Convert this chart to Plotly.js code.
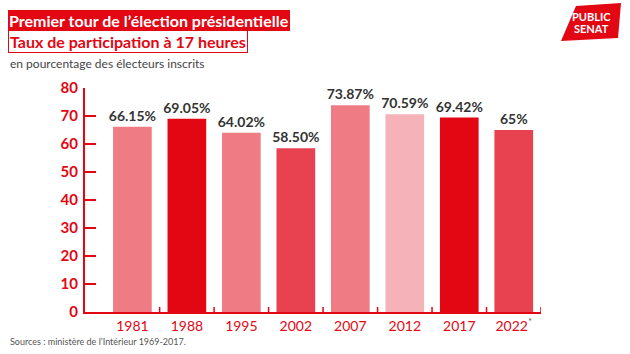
<!DOCTYPE html>
<html><head><meta charset="utf-8">
<script src="https://cdn.plot.ly/plotly-3.0.1.min.js"></script>
<style>html,body{margin:0;padding:0;background:#fff}</style>
</head><body>
<div id="chart" style="width:630px;height:354px"></div>
<script>
const years = ["1981","1988","1995","2002","2007","2012","2017","2022"];
const tickLabels = ["1981","1988","1995","2002","2007","2012","2017","2022<sup style='color:#666'>*</sup>"];
const participation = [66.15, 69.05, 64.02, 58.50, 73.87, 70.59, 69.42, 65];
const valueLabels = ["66.15%","69.05%","64.02%","58.50%","73.87%","70.59%","69.42%","65%"];
const barColors = ["#ef7b84","#e30613","#ef7b84","#e8414f","#ef7b84","#f5b3b9","#e30613","#e8414f"];
const yTicks = [0,10,20,30,40,50,60,70,80];

const RED = "#e30613";
const W = 630, H = 354, L = 85, R = 89, T = 88, B = 42;
const pw = W - L - R, ph = H - T - B;
const px = x => (x - L) / pw;
const py = y => (H - B - y) / ph;

const idx = years.map((_, i) => i);

const trace = {
  type: "bar",
  x: idx,
  y: participation,
  marker: { color: barColors, line: { width: 0 } },
  text: valueLabels,
  textposition: "outside",
  constraintext: "none",
  cliponaxis: false,
  textfont: { family: "Lato, sans-serif", size: 14, color: "#333", weight: 700 },
  hoverinfo: "skip"
};

const shapes = [];
for (let i = 0; i < years.length; i++) {
  shapes.push({ type: "line", xref: "x", yref: "paper", x0: i + 0.5, x1: i + 0.5, y0: 0, y1: 5 / ph,
    line: { color: RED, width: 1.5 } });
}
shapes.push({ type: "path", xref: "paper", yref: "paper",
  path: `M ${px(576)} ${py(6)} L ${px(621)} ${py(3)} L ${px(618)} ${py(38)} L ${px(561)} ${py(41)} Z`,
  fillcolor: RED, line: { width: 0 } });

const annotations = [
  { xref: "paper", yref: "paper", x: px(8), y: py(10), xanchor: "left", yanchor: "top",
    text: "Premier tour de l’élection présidentielle", showarrow: false,
    font: { family: "Lato, sans-serif", size: 16, color: "#fff", weight: 700 },
    bgcolor: RED, borderpad: 1, borderwidth: 0 },
  { xref: "paper", yref: "paper", x: px(8), y: py(30), xanchor: "left", yanchor: "top",
    text: "Taux de participation à 17 heures", showarrow: false,
    font: { family: "Lato, sans-serif", size: 16, color: RED, weight: 700 },
    bgcolor: "#fff", bordercolor: RED, borderwidth: 1, borderpad: 1 },
  { xref: "paper", yref: "paper", x: px(8), y: py(64), xanchor: "left", yanchor: "middle",
    text: "en pourcentage des électeurs inscrits", showarrow: false,
    font: { family: "Lato, sans-serif", size: 12, color: "#444" } },
  { xref: "paper", yref: "paper", x: px(8), y: py(341), xanchor: "left", yanchor: "middle",
    text: "Sources : ministère de l’Intérieur 1969-2017.", showarrow: false,
    font: { family: "Lato, sans-serif", size: 9, color: "#555" } },
  { xref: "paper", yref: "paper", x: px(591), y: py(16), xanchor: "center", yanchor: "middle",
    text: "PUBLIC", showarrow: false,
    font: { family: "Lato, sans-serif", size: 11, color: "#fff", weight: 700 } },
  { xref: "paper", yref: "paper", x: px(591), y: py(29), xanchor: "center", yanchor: "middle",
    text: "SENAT", showarrow: false,
    font: { family: "Lato, sans-serif", size: 11, color: "#fff", weight: 700 } }
];

const layout = {
  width: W, height: H,
  margin: { l: L, r: R, t: T, b: B, pad: 0 },
  paper_bgcolor: "#fff", plot_bgcolor: "#fff",
  showlegend: false,
  bargap: 0.29,
  xaxis: {
    range: [-0.87, 7.5],
    tickvals: idx, ticktext: tickLabels,
    ticks: "", showgrid: false, zeroline: false,
    showline: true, linecolor: RED, linewidth: 2,
    tickfont: { family: "Lato, sans-serif", size: 14, color: RED },
    fixedrange: true
  },
  yaxis: {
    range: [0, 80],
    tickvals: yTicks,
    ticks: "inside", ticklen: 11, tickcolor: RED, tickwidth: 1.5,
    showgrid: false, zeroline: false,
    showline: true, linecolor: RED, linewidth: 2,
    tickfont: { family: "Lato, sans-serif", size: 15, color: RED, weight: 700 },
    ticklabelstandoff: 2,
    fixedrange: true
  },
  shapes: shapes,
  annotations: annotations
};

Plotly.newPlot("chart", [trace], layout, { displayModeBar: false, staticPlot: true });
</script>
</body></html>
